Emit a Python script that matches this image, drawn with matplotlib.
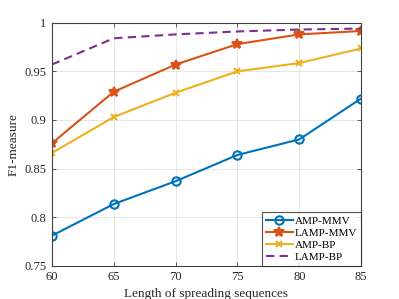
import matplotlib
matplotlib.use("Agg")
import matplotlib.pyplot as plt

x = [60, 65, 70, 75, 80, 85]
amp_mmv = [0.781, 0.8135, 0.837, 0.864, 0.880, 0.922]
lamp_mmv = [0.876, 0.929, 0.957, 0.978, 0.988, 0.9915]
amp_bp = [0.866, 0.903, 0.928, 0.950, 0.9585, 0.9735]
lamp_bp = [0.957, 0.984, 0.988, 0.991, 0.993, 0.994]
xticks = [60, 65, 70, 75, 80, 85]
yticks = [0.75, 0.8, 0.85, 0.9, 0.95, 1.0]
ytick_labels = ["0.75", "0.8", "0.85", "0.9", "0.95", "1"]

plt.rcParams['font.family'] = ['Liberation Serif', 'DejaVu Serif']
plt.rcParams['mathtext.fontset'] = 'stix'

fig = plt.figure(figsize=(3.99, 2.99), dpi=100)
ax = fig.add_axes([0.130, 0.111, 0.775, 0.813])

ax.plot(x, amp_mmv, color='#0072BD', lw=1.5, marker='o', ms=6, mfc='none', mew=1.5, label='AMP-MMV')
ax.plot(x, lamp_mmv, color='#D95319', lw=1.5, marker='*', ms=7, mew=1.5, label='LAMP-MMV')
ax.plot(x, amp_bp, color='#EDB120', lw=1.5, marker='x', ms=5, mew=1.5, label='AMP-BP')
ax.plot(x, lamp_bp, color='#7E2F8E', lw=1.5, ls=(0, (4, 2.5)), label='LAMP-BP')

ax.set_xlim(60, 85)
ax.set_ylim(0.75, 1.0)
ax.set_xticks(xticks)
ax.set_yticks(yticks)
ax.set_yticklabels(ytick_labels)
ax.grid(True, color='#e6e6e6', lw=0.7)
ax.set_axisbelow(True)
for s in ax.spines.values():
    s.set_color('#404040')
    s.set_linewidth(0.8)
ax.tick_params(direction='in', top=True, right=True, length=3, width=0.6,
               colors='#404040', labelsize=9, labelcolor='#262626', pad=4)
ax.set_xlabel('Length of spreading sequences', fontsize=9.5, color='#262626', labelpad=3)
ax.set_ylabel('F1-measure', fontsize=9.5, color='#262626', labelpad=3)

leg = ax.legend(loc='lower right', fontsize=8, frameon=True, fancybox=False,
                edgecolor='#262626', borderpad=0.35, labelspacing=0.2,
                handlelength=2.4, handletextpad=0.2, borderaxespad=0.0)
leg.get_frame().set_linewidth(0.8)

fig.savefig('out.png', dpi=100)
